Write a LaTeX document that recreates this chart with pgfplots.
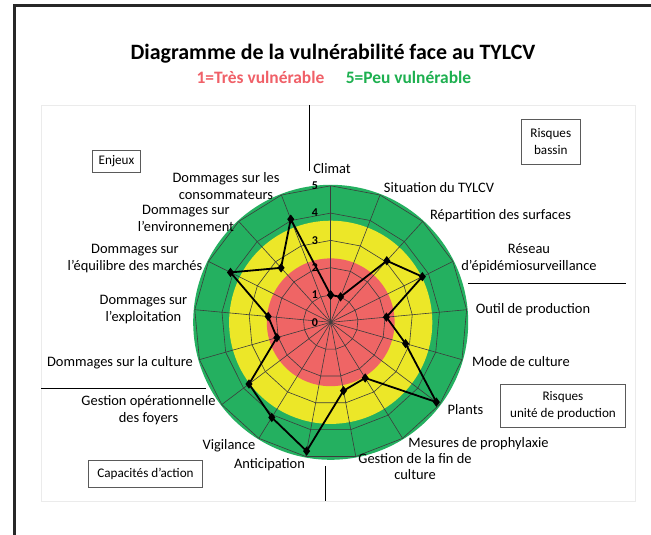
\documentclass[border=0pt]{standalone}
\usepackage{pgfplots}
\pgfplotsset{compat=1.18}
\usepackage{pgfplotstable}
\usepackage{fontspec}
\setmainfont{Carlito}
\definecolor{zred}{RGB}{239,101,101}
\definecolor{zyellow}{RGB}{236,231,40}
\definecolor{zgreen}{RGB}{36,176,96}
\definecolor{tred}{RGB}{240,96,104}
\definecolor{tgreen}{RGB}{30,176,80}
\definecolor{gridc}{RGB}{60,60,60}
\definecolor{framec}{RGB}{40,40,40}
\definecolor{boxc}{RGB}{90,90,90}

\pgfplotstableread{
k v
0 1.00
1 1.00
2 3.05
3 3.75
4 2.05
5 2.85
6 4.85
7 2.40
8 2.55
9 4.80
10 4.10
11 3.75
12 2.05
13 2.30
14 4.10
15 2.70
16 4.05
17 1.00
}\vuln

\pgfplotstableread{
k r
0 1
1 1
2 1
3 1
4 1
5 1
6 1
7 1
8 1
9 1
10 1
11 1
12 1
13 1
14 1
15 1
16 1
17 1
}\angles

\begin{document}
\begin{tikzpicture}
\useasboundingbox (0,0) rectangle (651bp,535bp);
\fill[white] (0,0) rectangle (651bp,535bp);
\begin{scope}[x=1bp,y=-1bp,yshift=535bp]
  % frame
  \draw[framec, line width=3bp] (14,6) -- (651,6);
  \draw[framec, line width=3bp] (14,4.5) -- (14,535);
  % inner panel
  \draw[black!8, line width=0.8bp] (41,105) rectangle (635,501);
  % separators
  \draw[black, line width=0.8bp] (309.5,105) -- (309.5,171);
  \draw[black, line width=0.8bp] (468,283.5) -- (626,283.5);
  \draw[black, line width=0.8bp] (41,388.5) -- (206,388.5);
  \draw[black, line width=0.8bp] (325.7,466) -- (325.7,501);
  % boxes
  \draw[boxc, line width=0.9bp] (92.7,150) rectangle (140.3,172.7);
  \node[font=\fontsize{13.2}{15}\selectfont] at (116.5,161.3) {Enjeux};
  \draw[boxc, line width=0.9bp] (521.7,119) rectangle (580,164.3);
  \node[font=\fontsize{13.2}{16.5}\selectfont, align=center] at (550.8,141.6) {Risques\\bassin};
  \draw[boxc, line width=0.9bp] (88.3,460.7) rectangle (202.7,487.3);
  \node[font=\fontsize{13.2}{15}\selectfont] at (145.5,474) {Capacités d'action};
  \draw[boxc, line width=0.9bp] (500.3,384.3) rectangle (625.7,427);
  \node[font=\fontsize{13.2}{16.5}\selectfont, align=center] at (563,405.6) {Risques\\unité de production};
  % title
  \node[font=\fontsize{22}{26}\bfseries\selectfont] at (333,54) {Diagramme de la vulnérabilité face au TYLCV};
  \node[font=\fontsize{17.5}{20}\bfseries\selectfont, text=tred] at (260.5,77) {1=Très vulnérable};
  \node[font=\fontsize{17.5}{20}\bfseries\selectfont, text=tgreen] at (408.5,77) {5=Peu vulnérable};
\end{scope}

\begin{axis}[at={(330.7bp,212.7bp)}, anchor=center, x=27.3bp, y=27.3bp,
  xmin=-5.5, xmax=5.5, ymin=-5.5, ymax=5.5, hide axis, clip=false]
  \fill[zgreen] (axis cs:0,0) circle[radius=137.5bp];
  \fill[zyellow] (axis cs:0,0) circle[radius=101.6bp];
  \fill[zred] (axis cs:0,0) circle[radius=63.9bp];
  \pgfplotsinvokeforeach{1,2,3,4,5}{
    \addplot[gridc, line width=0.6bp, no marks] table[x expr={#1*cos(90-\thisrow{k}*360/17)}, y expr={#1*sin(90-\thisrow{k}*360/17)}] {\angles};
  }
  \pgfplotsinvokeforeach{0,...,16}{
    \draw[gridc, line width=0.6bp] (axis cs:0,0) -- (axis cs:{5*cos(90-#1*360/17)},{5*sin(90-#1*360/17)});
  }
  \pgfplotsinvokeforeach{0,1,2,3,4,5}{
    \node[font=\fontsize{12}{14}\bfseries\selectfont] at (axis cs:-0.58,#1) {#1};
  }
  \addplot[black, line width=1.8bp, mark=diamond*, mark size=3.2bp, mark options={solid}] table[x expr={\thisrow{v}*cos(90-\thisrow{k}*360/17)}, y expr={\thisrow{v}*sin(90-\thisrow{k}*360/17)}] {\vuln};
\end{axis}

\begin{scope}[x=1bp,y=-1bp,yshift=535bp, every node/.style={font=\fontsize{14.5}{16.7}\selectfont, align=center, inner sep=0pt}]
  \node at (332,169) {Climat};
  \node at (439,188) {Situation du TYLCV};
  \node at (500.5,216) {Répartition des surfaces};
  \node at (529,258.3) {Réseau\\d'épidémiosurveillance};
  \node at (533,310) {Outil de production};
  \node at (521,362) {Mode de culture};
  \node at (465.5,410) {Plants};
  \node at (478.5,444) {Mesures de prophylaxie};
  \node at (415,466.5) {Gestion de la fin de\\culture};
  \node at (269.5,465) {Anticipation};
  \node at (229,445.7) {Vigilance};
  \node at (148.5,410) {Gestion opérationnelle\\des foyers};
  \node at (120,362.3) {Dommages sur la culture};
  \node at (143.5,309.4) {Dommages sur\\l'exploitation};
  \node at (135,258.3) {Dommages sur\\l'équilibre des marchés};
  \node at (226,186) {Dommages sur les\\consommateurs};
  \node at (186,218.5) {Dommages sur\\l'environnement};
\end{scope}
\end{tikzpicture}
\end{document}
